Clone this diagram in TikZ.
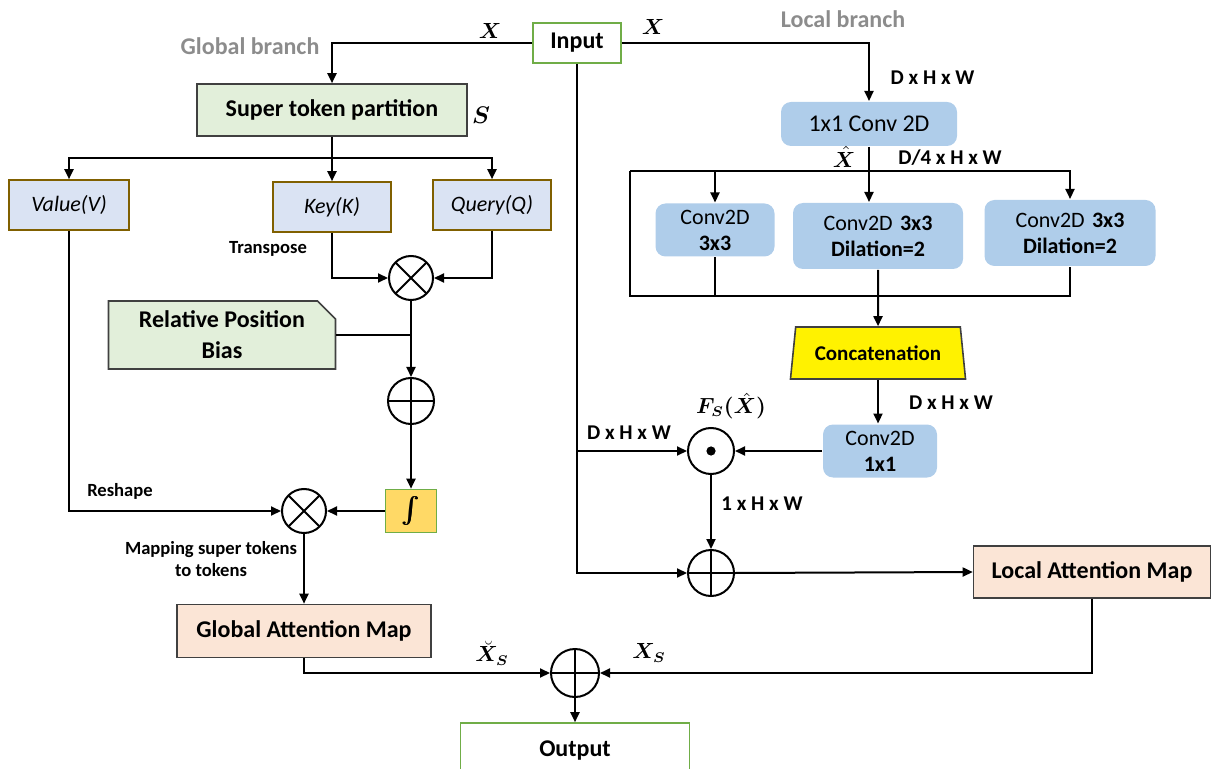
\documentclass[tikz,border=0pt]{standalone}
\usepackage{amsmath,amssymb,bm}
\usepackage{fontspec}
\setmainfont{Carlito}
\usetikzlibrary{arrows.meta, shapes.geometric, shapes.misc}
\definecolor{dkgray}{HTML}{404040}
\definecolor{brgray}{HTML}{8C8C8C}
\definecolor{sagefill}{HTML}{E2EFDA}
\definecolor{iogreen}{HTML}{70AD47}
\definecolor{qkvfill}{HTML}{DAE3F3}
\definecolor{qkvedge}{HTML}{806000}
\definecolor{convblue}{HTML}{AFCDEA}
\definecolor{peach}{HTML}{FBE5D6}
\definecolor{gold}{HTML}{FFD966}

\begin{document}
\begin{tikzpicture}[x=0.5pt, y=-0.5pt, >={Triangle[length=5pt, width=4.5pt]}, line width=1pt,
  blk/.style={draw=dkgray, line width=0.8pt, inner sep=0pt, align=center,
    font=\fontsize{12}{15}\selectfont\bfseries},
  iobox/.style={blk, draw=iogreen, fill=white},
  partbox/.style={blk, fill=sagefill},
  qkv/.style={blk, draw=qkvedge, fill=qkvfill, font=\fontsize{11}{13}\selectfont\itshape},
  convbox/.style={inner sep=0pt, align=center, fill=convblue, rounded corners=5pt,
    font=\fontsize{11}{13}\selectfont},
  mapbox/.style={blk, fill=peach},
  op/.style={circle, draw, line width=1pt, minimum size=23pt, inner sep=0pt},
  mult/.style={op, path picture={\draw[line width=1pt]
    (path picture bounding box.north west) -- (path picture bounding box.south east)
    (path picture bounding box.south west) -- (path picture bounding box.north east);}},
  add/.style={op, path picture={\draw[line width=1pt]
    (path picture bounding box.north) -- (path picture bounding box.south)
    (path picture bounding box.west) -- (path picture bounding box.east);}},
  hadam/.style={op, path picture={\fill (path picture bounding box.center) circle (2.3pt);}},
  note/.style={font=\fontsize{9.3}{11}\selectfont\bfseries, align=center},
  dims/.style={font=\fontsize{10.5}{12}\selectfont\bfseries},
  branch/.style={font=\fontsize{12}{14}\selectfont\bfseries, text=brgray},
  sym/.style={font=\fontsize{10.5}{12}\selectfont, inner sep=1pt}]

\useasboundingbox (0,0) rectangle (1213,769);
\clip (0,0) rectangle (1213,769);

% --- Input / output ---
\node[iobox, minimum width=44pt, minimum height=20pt] (input) at (577,43) {Input};
\node[iobox, minimum width=114.5pt, minimum height=28pt] (output) at (575,751) {Output};

% --- Global branch ---
\node[branch] (glabel) at (250,46) {Global branch};
\node[partbox, minimum width=135pt, minimum height=26pt] (stp) at (332,110) {Super token partition};
\node[sym, font=\fontsize{12}{13}\selectfont] (slabel) at (481,115) {$\bm{S}$};

\node[qkv, minimum width=60pt, minimum height=25pt] (value) at (69,205) {Value(V)};
\node[qkv, minimum width=59pt, minimum height=25pt] (key) at (332,207) {Key(K)};
\node[qkv, minimum width=59pt, minimum height=25pt] (query) at (492,205) {Query(Q)};

\node[mult, minimum size=22pt] (mulA) at (411,278) {};
\node[blk, fill=sagefill, chamfered rectangle, chamfered rectangle corners=north east,
  chamfered rectangle xsep=4pt, chamfered rectangle ysep=5pt,
  minimum width=113.5pt, minimum height=32pt, font=\fontsize{12}{15.5}\selectfont\bfseries]
  (rpb) at (222,335) {Relative Position\\Bias};
\node[add] (addA) at (411,401) {};
\node[blk, draw=iogreen, fill=gold, minimum width=25.5pt, minimum height=21.5pt,
  font=\fontsize{13}{14}\selectfont] (integ) at (411,511) {$\bm{\int}$};
\node[mult, minimum size=22pt] (mulB) at (304,511) {};
\node[mapbox, minimum width=127pt, minimum height=26.5pt] (gam) at (304,631) {Global Attention Map};
\node[add, minimum size=24pt] (addOut) at (575,673) {};

% --- Local branch ---
\node[branch] (llabel) at (843,19) {Local branch};
\node[convbox, minimum width=88pt, minimum height=22pt, font=\fontsize{12}{14}\selectfont] (conv1) at (869,124) {1x1 Conv 2D};
\node[convbox, minimum width=59.5pt, minimum height=26.5pt] (c33) at (715,230)
  {Conv2D\\\bfseries 3x3};
\node[convbox, minimum width=85pt, minimum height=33pt] (c33d) at (878,236)
  {Conv2D\,\,\textbf{3x3}\\\bfseries Dilation=2};
\node[convbox, minimum width=85.5pt, minimum height=33pt] (c33d2) at (1070,233)
  {Conv2D\,\,\textbf{3x3}\\\bfseries Dilation=2};
\node[blk, fill=yellow, trapezium, trapezium stretches=true, trapezium left angle=75,
  trapezium right angle=75, minimum width=88pt, minimum height=26pt,
  font=\fontsize{10.5}{12}\selectfont\bfseries] (concat) at (878,353) {Concatenation};
\node[convbox, minimum width=57pt, minimum height=26.5pt] (conv11) at (880,451)
  {Conv2D\\\bfseries 1x1};
\node[hadam] (dotA) at (711,451) {};
\node[add] (addB) at (711,573) {};
\node[mapbox, minimum width=118.5pt, minimum height=26pt] (lam) at (1092,572) {Local Attention Map};

% bracket round the three convolutions
\coordinate (brTL) at (630,171);
\coordinate (brTR) at (1070,171);
\coordinate (brBL) at (630,296);
\coordinate (brBR) at (1070,296);

% --- Connectors, global side ---
\draw[->] (input.west) -| (stp.north);
\coordinate (split) at (332,158);
\draw[->] (stp.south) -- (key.north);
\draw[->] (split) -| (value.north);
\draw[->] (split) -| (query.north);
\draw[->] (key.south) |- (mulA.west);
\draw[->] (query.south) |- (mulA.east);
\draw[->] (mulA.south) -- (addA.north);
\draw (rpb.east) -- (rpb.east -| mulA);
\draw[->] (addA.south) -- (integ.north);
\draw[->] (integ.west) -- (mulB.east);
\draw[->] (value.south) |- (mulB.west);
\draw[->] (mulB.south) -- (gam.north);
\draw[->] (gam.south) |- (addOut.west);
\draw[->] (lam.south) |- (addOut.east);
\draw[->] (addOut.south) -- (output.north);

% --- Connectors, local side ---
\draw[->] (input.east) -| (conv1.north);
\draw[->] (brTL) -- (brTR) -- (c33d2.north);
\draw[->] (brTL -| c33.north) -- (c33.north);
\draw[->] (conv1.south) -- (conv1.south |- c33d.north);
\draw (brTL) -- (brBL) -- (brBR) -- (c33d2.south);
\draw (c33.south) -- (c33.south |- brBL);
\draw[->] (c33d.south) -- (concat.north);
\draw[->] (concat.south) -- (concat.south |- conv11.north);
\draw[->] (conv11.west) -- (dotA.east);
\draw[->] (dotA.south) -- (addB.north);
\draw[->] (addB.east) -- (lam.west);
\draw[->] (input.south) |- (addB.west);
\draw[->] (input.south |- dotA) -- (dotA.west);

% --- Labels ---
\node[sym] (xl) at (490,31) {$\bm{X}$};
\node[sym] (xr) at (653,27) {$\bm{X}$};
\node[dims, anchor=west] (d1) at (883,78) {D x H x W};
\node[sym] (xhat) at (844,157) {$\bm{\hat{X}}$};
\node[dims] (d4) at (950,158) {D/4 x H x W};
\node[note] (tr) at (268,249) {Transpose};
\node[note] (rs) at (120,491) {Reshape};
\node[note] (mp) at (211,559) {Mapping super tokens\\to tokens};
\node[sym] (fs) at (731,406) {$\bm{F_S(\hat{X})}$};
\node[dims] (d2) at (629,433) {D x H x W};
\node[dims] (d3) at (951,403) {D x H x W};
\node[dims] (d5) at (762,504) {1 x H x W};
\node[sym] (xg) at (492,653) {$\bm{\breve{X}_S}$};
\node[sym] (xs) at (649,653) {$\bm{X_S}$};

\end{tikzpicture}
\end{document}
